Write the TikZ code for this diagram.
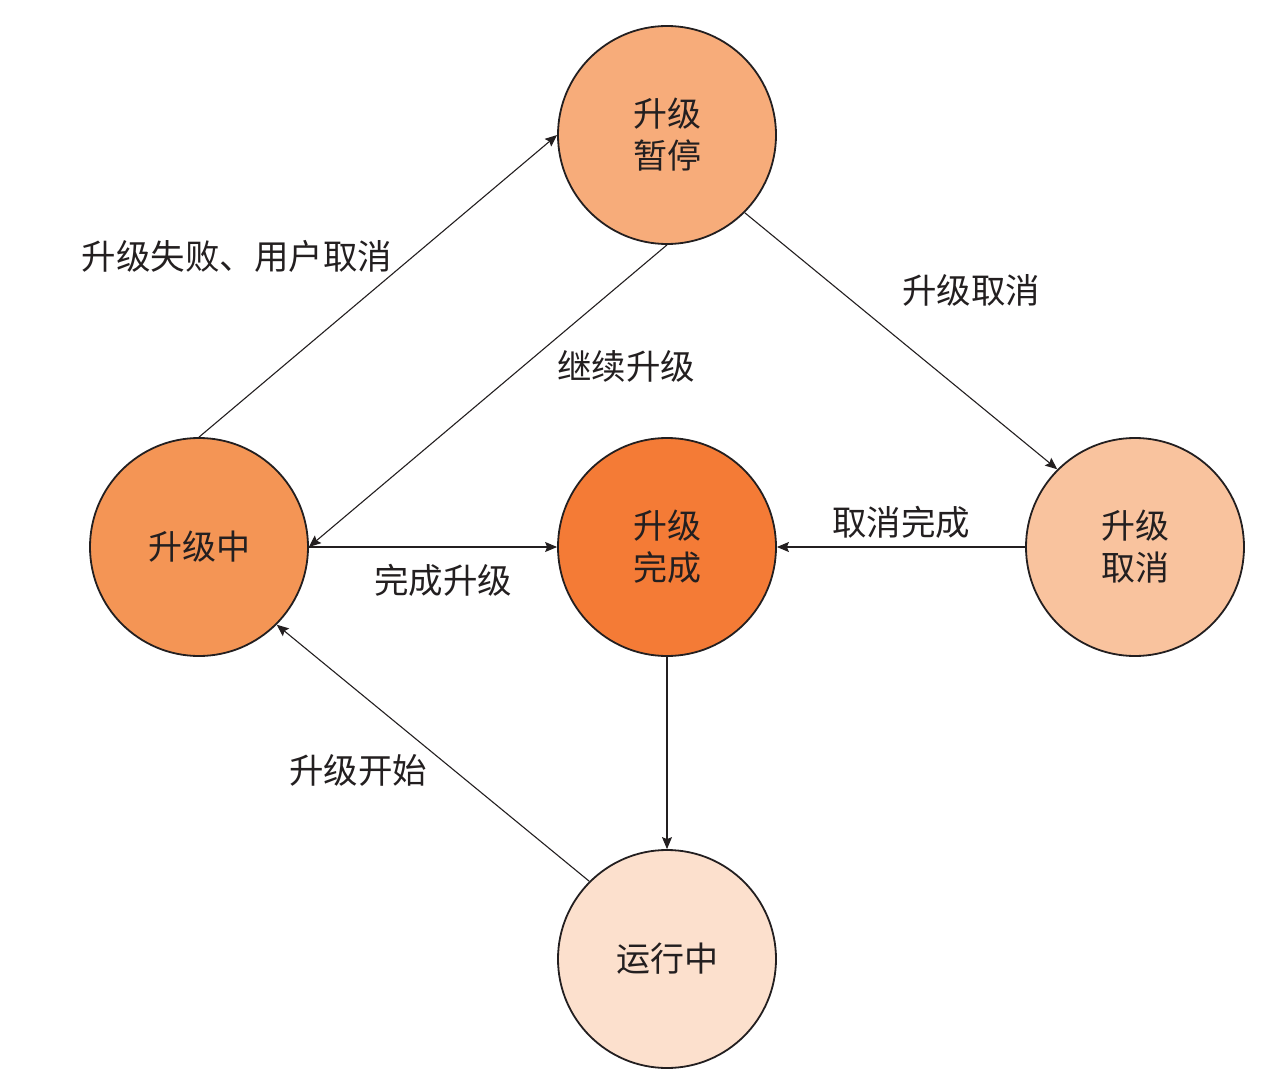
\documentclass[tikz,border=0pt]{standalone}
\usepackage{fontspec}
\setmainfont{Noto Sans CJK SC}
\usetikzlibrary{arrows.meta}
\definecolor{cPause}{HTML}{F7AC7A}
\definecolor{cDoing}{HTML}{F49555}
\definecolor{cDone}{HTML}{F47B36}
\definecolor{cCancel}{HTML}{F9C39E}
\definecolor{cRun}{HTML}{FCE0CD}
\definecolor{ink}{HTML}{231F20}
\tikzset{
  state/.style={circle, draw=ink, line width=1.8pt, minimum size=218pt, inner sep=0pt,
    align=center, font=\fontsize{34}{42}\selectfont, text=ink},
  conn/.style={draw=ink, line width=1.1pt, -{Stealth[length=12pt,width=10pt,inset=2pt]}},
  lbl/.style={font=\fontsize{34.5}{40}\selectfont, text=ink, inner sep=0pt}
}
\begin{document}
\begin{tikzpicture}[x=1pt,y=-1pt]
\useasboundingbox (0,0) rectangle (1264,1086);
\node[state, fill=cPause]  (pause)  at (667,135) {升级\\暂停};
\node[state, fill=cDoing]  (doing)  at (199,547) {升级中};
\node[state, fill=cDone]   (done)   at (667,547) {升级\\完成};
\node[state, fill=cCancel] (cancel) at (1135,547) {升级\\取消};
\node[state, fill=cRun]    (run)    at (667,959) {运行中};

\draw[conn] (doing.north) -- (pause.west);
\draw[conn] (pause.south) -- (doing.east);
\draw[conn] (pause.south east) -- (cancel.north west);
\draw[conn] (doing.east) -- (done.west);
\draw[conn] (cancel.west) -- (done.east);
\draw[conn] (done.south) -- (run.north);
\draw[conn] (run.north west) -- (doing.south east);

\node[lbl] (l1) at (237,256) {升级失败、用户取消};
\node[lbl] (l2) at (626,366) {继续升级};
\node[lbl] (l3) at (971,290) {升级取消};
\node[lbl] (l4) at (443,580) {完成升级};
\node[lbl] (l5) at (901,522) {取消完成};
\node[lbl] (l6) at (358,770) {升级开始};
\end{tikzpicture}
\end{document}
